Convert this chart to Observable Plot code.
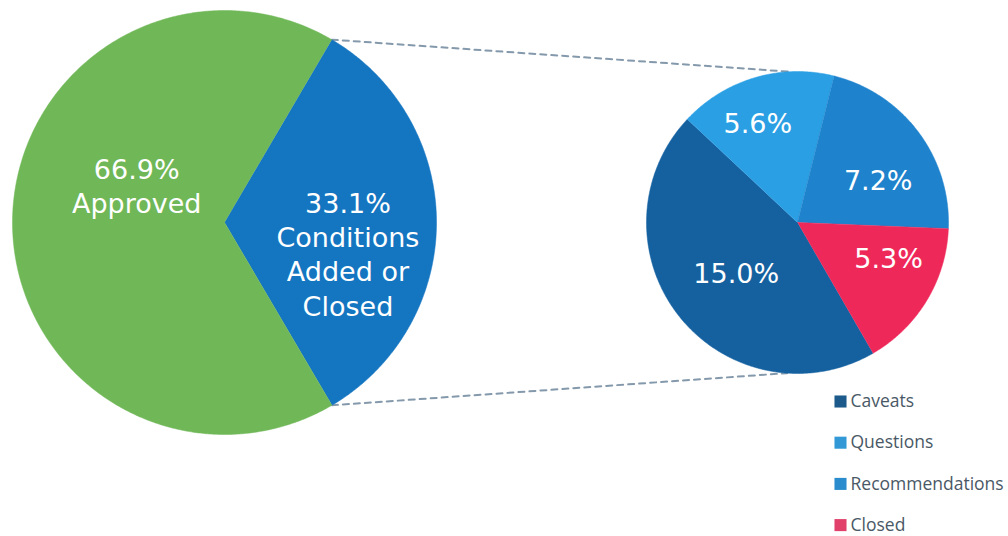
<!DOCTYPE html>
<html>
<head>
<meta charset="utf-8">
<script src="https://cdn.jsdelivr.net/npm/d3@7"></script>
<script src="https://cdn.jsdelivr.net/npm/@observablehq/plot@0.6"></script>
<style>
  html, body { margin: 0; padding: 0; background: #fff; }
  #chart svg { display: block; }
</style>
</head>
<body>
<div id="chart"></div>
<script>
// ---- data ----
const approvalCats = ["Conditions Added or Closed", "Approved"];
const approvalPct = [33.1, 66.9];
const approvalLabels = ["33.1%\nConditions\nAdded or\nClosed", "66.9%\nApproved"];

const conditionCats = ["Caveats", "Questions", "Recommendations", "Closed"];
const conditionPct = [15.0, 5.6, 7.2, 5.3];
const conditionLabels = ["15.0%", "5.6%", "7.2%", "5.3%"];

// ---- styles / layout ----
const approvalColors = ["#1475c1", "#6fb757"];
const conditionColors = ["#1561a0", "#2a9fe4", "#1e82cc", "#ef285a"];
const legendColors = ["#1b5a8a", "#3399d6", "#2a8ccc", "#e0406a"];
const W = 1008, H = 536;
const bigPie = {cx: 224, cy: 222, r: 212, start: 30.4};
const smallPie = {cx: 797, cy: 222, r: 151, start: 150};
// label placement: [angle deg clockwise from top, fraction of radius]
const approvalLabelPolar = [[104, 0.6], [293, 0.45]];
const conditionLabelPolar = [[230, 0.53], [338, 0.7], [63, 0.6], [112, 0.65]];

const rad = d => d * Math.PI / 180;
function arcs(values, pie) {
  return d3.pie().sort(null)
    .startAngle(rad(pie.start)).endAngle(rad(pie.start) + 2 * Math.PI)(values);
}
function slicePoints(values, cats, colors, pie) {
  const rows = [];
  arcs(values, pie).forEach((a, i) => {
    rows.push({k: cats[i], c: colors[i], x: pie.cx, y: pie.cy});
    const n = Math.max(2, Math.ceil((a.endAngle - a.startAngle) / rad(0.5)));
    for (let j = 0; j <= n; j++) {
      const t = a.startAngle + (a.endAngle - a.startAngle) * j / n;
      rows.push({k: cats[i], c: colors[i], x: pie.cx + pie.r * Math.sin(t), y: pie.cy - pie.r * Math.cos(t)});
    }
  });
  return rows;
}
function labelRows(labels, polar, pie) {
  return labels.map((t, i) => {
    const [ang, f] = polar[i];
    return {t, x: pie.cx + f * pie.r * Math.sin(rad(ang)), y: pie.cy - f * pie.r * Math.cos(rad(ang))};
  });
}
const pointOn = (pie, ang) => ({x: pie.cx + pie.r * Math.sin(rad(ang)), y: pie.cy - pie.r * Math.cos(rad(ang))});

// connector lines: from edges of the "Conditions" slice to top/bottom of the breakdown pie
const condArc = arcs(approvalPct, bigPie)[0];
const a0 = condArc.startAngle * 180 / Math.PI, a1 = condArc.endAngle * 180 / Math.PI;
const connectors = [
  {k: "top", ...pointOn(bigPie, a0)}, {k: "top", ...pointOn(smallPie, 357)},
  {k: "bot", ...pointOn(bigPie, a1)}, {k: "bot", ...pointOn(smallPie, 184)}
];

const legendRows = conditionCats.map((k, i) => ({k, c: legendColors[i], x: 840, y: 401 + i * 41.2}));

const chart = Plot.plot({
  width: W, height: H,
  margin: 0,
  x: {domain: [0, W], axis: null},
  y: {domain: [H, 0], axis: null},
  color: {type: "identity"},
  marks: [
    Plot.line(connectors, {x: "x", y: "y", z: "k", stroke: "#8499ab", strokeWidth: 2, strokeDasharray: "6,5"}),
    Plot.line(slicePoints(approvalPct, approvalCats, approvalColors, bigPie),
      {x: "x", y: "y", z: "k", fill: "c", stroke: "c", strokeWidth: 0.5, curve: "linear"}),
    Plot.line(slicePoints(conditionPct, conditionCats, conditionColors, smallPie),
      {x: "x", y: "y", z: "k", fill: "c", stroke: "c", strokeWidth: 0.5, curve: "linear"}),
    Plot.text(labelRows(approvalLabels, approvalLabelPolar, bigPie),
      {x: "x", y: "y", text: "t", fill: "white", fontSize: 27, fontFamily: "DejaVu Sans", lineHeight: 1.27}),
    Plot.text(labelRows(conditionLabels, conditionLabelPolar, smallPie),
      {x: "x", y: "y", text: "t", fill: "white", fontSize: 27, fontFamily: "DejaVu Sans"}),
    Plot.dot(legendRows, {x: "x", y: "y", fill: "c", symbol: "square", r: 6.8}),
    Plot.text(legendRows, {x: d => d.x + 10, y: "y", text: "k", textAnchor: "start", fill: "#4a5866", fontSize: 17.5, fontFamily: "Open Sans"})
  ]
});
document.getElementById("chart").appendChild(chart);
</script>
</body>
</html>
